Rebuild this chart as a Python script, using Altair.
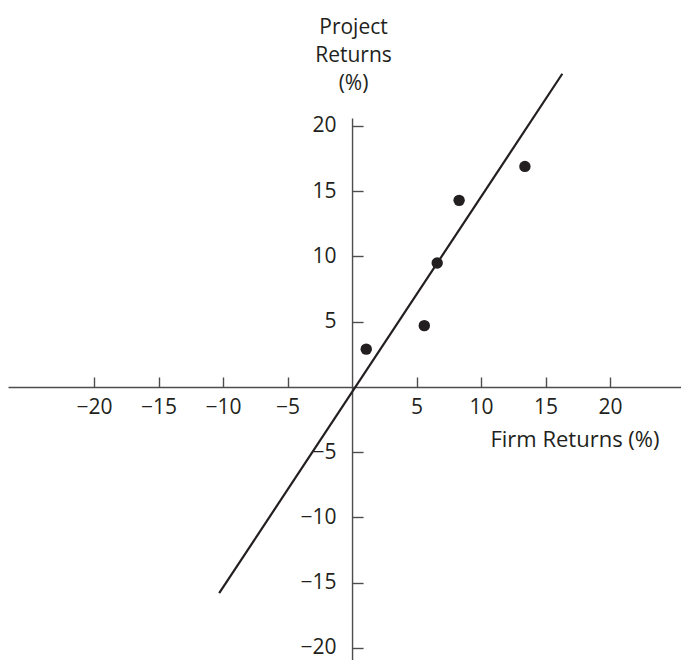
import altair as alt
import pandas as pd

# ---- data ----
firm_returns = [1.1, 5.6, 6.6, 8.3, 13.4]
project_returns = [2.9, 4.7, 9.5, 14.3, 16.9]
line_firm = [-10.3, 16.3]
line_project = [-15.8, 24.0]
tick_values = [-20, -15, -10, -5, 5, 10, 15, 20]
x_title = "Firm Returns (%)"
y_title = ["Project", "Returns", "(%)"]

# ---- layout ----
X_DOMAIN = [-26.67, 25.5]
Y_DOMAIN = [-20.92, 20.61]
W, H = 673, 542
FONT = "Open Sans"
INK = "#231f20"
AXIS = "#4d4d4d"

x_zero = W * (0 - X_DOMAIN[0]) / (X_DOMAIN[1] - X_DOMAIN[0])
y_zero_from_top = H * (Y_DOMAIN[1] - 0) / (Y_DOMAIN[1] - Y_DOMAIN[0])

pts = pd.DataFrame({"firm": firm_returns, "project": project_returns})
ln = pd.DataFrame({"firm": line_firm, "project": line_project})

xs = alt.Scale(domain=X_DOMAIN, nice=False, zero=False)
ys = alt.Scale(domain=Y_DOMAIN, nice=False, zero=False)

line = alt.Chart(ln).mark_line(color=INK, strokeWidth=2.2).encode(
    x=alt.X("firm:Q", scale=xs,
            axis=alt.Axis(orient="top", offset=-y_zero_from_top, values=tick_values,
                          ticks=True, tickSize=10, tickColor=AXIS, tickWidth=1.4,
                          labels=False, domain=False, grid=False, title=None)),
    y=alt.Y("project:Q", scale=ys,
            axis=alt.Axis(orient="right", offset=-(W - x_zero), values=tick_values,
                          ticks=True, tickSize=11, tickColor=AXIS, tickWidth=1.4,
                          labels=False, domain=False, grid=False, title=None)),
)

points = alt.Chart(pts).mark_circle(size=130, color=INK, opacity=1).encode(
    x=alt.X("firm:Q", scale=xs,
            axis=alt.Axis(orient="bottom", offset=-(H - y_zero_from_top), values=tick_values,
                          ticks=False, tickSize=0, domain=True, domainColor=AXIS,
                          domainWidth=1.4, grid=False, labelFont=FONT, labelFontSize=21,
                          labelColor=INK, labelPadding=21, labelBaseline="middle",
                          labelOverlap=False, labelFlush=False,
                          title=x_title, titleFont=FONT, titleFontSize=22,
                          titleFontWeight="normal", titleColor=INK, titleX=651, titleY=53,
                          titleAlign="right", titleBaseline="middle")),
    y=alt.Y("project:Q", scale=ys,
            axis=alt.Axis(orient="left", offset=-x_zero, values=tick_values,
                          ticks=False, tickSize=0, domain=True, domainColor=AXIS,
                          domainWidth=1.4, grid=False, labelFont=FONT, labelFontSize=21,
                          labelColor=INK, labelPadding=16, labelAlign="right",
                          labelBaseline="middle", labelOverlap=False, labelFlush=False,
                          title=None)),
)

chart = alt.layer(line, points).resolve_axis(
    x="independent", y="independent"
).properties(
    width=W, height=H,
    autosize=alt.AutoSizeParams(type="none"),
    padding={"left": 0, "top": 110, "right": 0, "bottom": 0},
    title=alt.TitleParams(text=y_title, font=FONT, fontSize=21, fontWeight="normal",
                          color=INK, lineHeight=28, anchor="middle", frame="group",
                          dx=9, offset=-25),
).configure_view(strokeOpacity=0)

chart.save("out.html", embed_options={"renderer": "svg", "actions": False})
